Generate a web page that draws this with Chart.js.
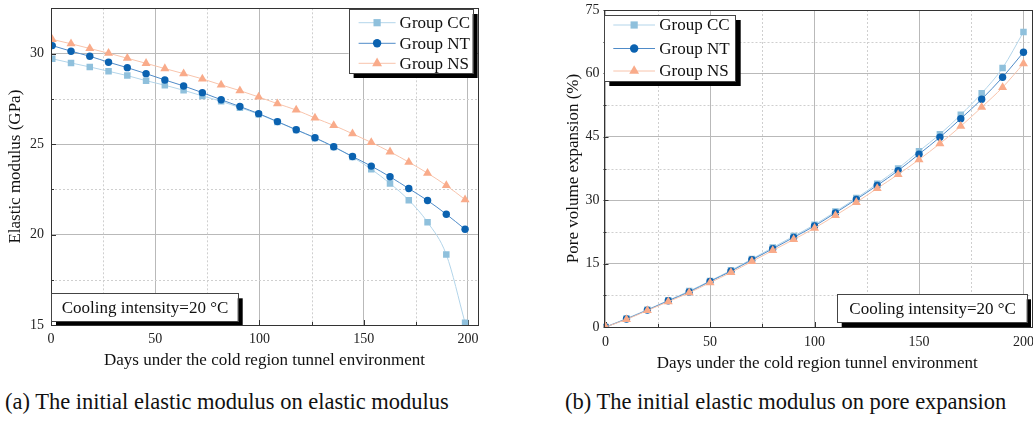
<!DOCTYPE html>
<html lang="en">

<head>
  <meta charset="UTF-8" />
  <title>Elastic modulus and pore expansion</title>
  <script src="https://cdn.jsdelivr.net/npm/chart.js"></script>
  <style>
    body,
    html {
      margin: 0;
      width: 1033px;
      height: 427px;
      background: #fff;
      overflow: hidden;
      font-family: 'Liberation Serif', 'Times New Roman', serif;
    }

    .painel {
      position: absolute;
      top: 0;
    }

    .legenda {
      position: absolute;
      top: 389px;
      font-size: 22.5px;
      color: #111;
      white-space: nowrap;
    }
  </style>
</head>

<body>
  <div class="painel" style="left:0"><canvas id="graficoModulo" width="490" height="375"></canvas></div>
  <div class="painel" style="left:555px"><canvas id="graficoPoros" width="490" height="377"></canvas></div>
  <div class="legenda" style="left:5px">(a) The initial elastic modulus on elastic modulus</div>
  <div class="legenda" style="left:565px">(b) The initial elastic modulus on pore expansion</div>

  <script>
    const groupLabels = ['Group CC', 'Group NT', 'Group NS'];

    // (a) elastic modulus, GPa
    const modulusDays = [0.6, 9.6, 18.6, 27.6, 36.6, 45.6, 54.6, 63.6, 72.6, 81.6, 90.6, 99.6,
      108.6, 117.6, 126.6, 135.6, 144.6, 153.6, 162.6, 171.6, 180.6, 189.6, 198.6];
    const modulusCC = [29.71, 29.48, 29.26, 29.02, 28.78, 28.50, 28.25, 27.97, 27.66, 27.36, 27.01, 26.65,
      26.22, 25.78, 25.33, 24.84, 24.28, 23.61, 22.82, 21.90, 20.68, 18.89, 15.12];
    const modulusNT = [30.44, 30.13, 29.85, 29.52, 29.22, 28.89, 28.54, 28.21, 27.84, 27.45, 27.07, 26.68,
      26.24, 25.79, 25.35, 24.85, 24.31, 23.78, 23.19, 22.54, 21.88, 21.12, 20.29];
    const modulusNS = [30.78, 30.54, 30.28, 30.02, 29.74, 29.46, 29.17, 28.89, 28.60, 28.27, 27.95, 27.60,
      27.23, 26.88, 26.44, 26.03, 25.57, 25.09, 24.57, 24.00, 23.39, 22.71, 21.93];

    // (b) pore volume expansion, %
    const poreDays = [0, 10, 20, 30, 40, 50, 60, 70, 80, 90, 100, 110, 120, 130, 140, 150, 160, 170, 180, 190, 200];
    const poreCC = [0, 2.0, 4.1, 6.3, 8.5, 10.9, 13.4, 16.1, 18.8, 21.5, 24.2, 27.3, 30.5, 33.9, 37.5,
      41.6, 45.6, 50.2, 55.3, 61.3, 69.8];
    const poreNT = [0, 1.9, 4.0, 6.2, 8.3, 10.8, 13.2, 15.9, 18.5, 21.2, 23.9, 27.0, 30.2, 33.5, 37.0,
      40.9, 44.9, 49.3, 53.9, 59.1, 65.0];
    const poreNS = [0, 1.8, 3.9, 6.0, 8.1, 10.5, 12.9, 15.5, 18.1, 20.7, 23.4, 26.4, 29.5, 32.8, 36.1,
      39.6, 43.4, 47.5, 52.0, 56.7, 62.3];

    const modulusTicks = [15, 20, 25, 30];
    const poreTicks = [0, 15, 30, 45, 60, 75];
    const dayTicks = [0, 50, 100, 150, 200];

    const fonte = "'Liberation Serif', 'Times New Roman', serif";
    const estilos = [
      { cor: '#8fc0dc', linha: '#b3d5ea', ponto: 'rect', raio: 4.6, ordem: 2 },
      { cor: '#0b62b0', linha: '#4f8bc8', ponto: 'circle', raio: 3.7, ordem: 1 },
      { cor: '#f9ab8a', linha: '#f8c4ac', ponto: 'triangle', raio: 5.2, ordem: 0 }
    ];

    function montarSeries(dias, series) {
      return series.map((valores, i) => ({
        label: groupLabels[i],
        data: valores.map((v, k) => ({ x: dias[k], y: v })),
        borderColor: estilos[i].linha,
        backgroundColor: estilos[i].cor,
        pointBackgroundColor: estilos[i].cor,
        pointBorderColor: estilos[i].cor,
        pointBorderWidth: 0,
        pointStyle: estilos[i].ponto,
        pointRadius: estilos[i].raio,
        borderWidth: 1,
        cubicInterpolationMode: 'monotone',
        order: estilos[i].ordem
      }));
    }

    // grade menor pontilhada, ticks internos e moldura
    const gradePlugin = {
      id: 'grade',
      beforeDatasetsDraw(chart, args, opts) {
        const { ctx, chartArea: a } = chart;
        const sx = chart.scales.x, sy = chart.scales.y;
        ctx.save();
        ctx.strokeStyle = '#cfcfcf';
        ctx.lineWidth = 1;
        ctx.setLineDash([2, 2]);
        sx.ticks.forEach(t => {
          if (opts.xMajor.includes(t.value)) return;
          const px = Math.round(sx.getPixelForValue(t.value)) + 0.5;
          ctx.beginPath(); ctx.moveTo(px, a.top); ctx.lineTo(px, a.bottom); ctx.stroke();
        });
        sy.ticks.forEach(t => {
          if (opts.yMajor.includes(t.value)) return;
          const py = Math.round(sy.getPixelForValue(t.value)) + 0.5;
          ctx.beginPath(); ctx.moveTo(a.left, py); ctx.lineTo(a.right, py); ctx.stroke();
        });
        ctx.setLineDash([]);
        ctx.strokeStyle = '#333';
        sx.ticks.forEach(t => {
          const px = Math.round(sx.getPixelForValue(t.value)) + 0.5;
          const len = opts.xMajor.includes(t.value) ? 5 : 3;
          ctx.beginPath(); ctx.moveTo(px, a.bottom); ctx.lineTo(px, a.bottom - len); ctx.stroke();
        });
        sy.ticks.forEach(t => {
          const py = Math.round(sy.getPixelForValue(t.value)) + 0.5;
          const len = opts.yMajor.includes(t.value) ? 5 : 3;
          ctx.beginPath(); ctx.moveTo(a.left, py); ctx.lineTo(a.left + len, py); ctx.stroke();
        });
        ctx.restore();
      },
      afterDraw(chart) {
        const { ctx, chartArea: a } = chart;
        ctx.save();
        ctx.strokeStyle = '#333';
        ctx.lineWidth = 1;
        ctx.strokeRect(Math.round(a.left) + 0.5, Math.round(a.top) + 0.5,
          Math.round(a.right - a.left), Math.round(a.bottom - a.top));
        ctx.restore();
      }
    };

    function caixaComSombra(ctx, a, x, y, w, h) {
      ctx.save();
      ctx.beginPath();
      ctx.rect(a.left, a.top, a.right - a.left, a.bottom - a.top);
      ctx.clip();
      ctx.fillStyle = '#000';
      ctx.fillRect(x + 5, y + 5, w, h);
      ctx.restore();
      ctx.fillStyle = '#fff';
      ctx.fillRect(x, y, w, h);
      ctx.strokeStyle = '#444';
      ctx.lineWidth = 1;
      ctx.strokeRect(Math.round(x) + 0.5, Math.round(y) + 0.5, Math.round(w), Math.round(h));
    }

    // legenda com sombra + caixa de anotação
    const caixasPlugin = {
      id: 'caixas',
      afterDraw(chart, args, opts) {
        const { ctx, chartArea: a } = chart;
        ctx.save();
        const L = opts.legenda;
        const lx = L.lado === 'right' ? a.right - L.margem - L.w : a.left + L.margem;
        const ly = a.top + L.topo;
        caixaComSombra(ctx, a, lx, ly, L.w, L.h);
        ctx.font = '17px ' + fonte;
        ctx.textBaseline = 'middle';
        chart.data.datasets.forEach((ds, i) => {
          const yy = ly + L.linhas[i];
          ctx.strokeStyle = ds.borderColor;
          ctx.lineWidth = 1;
          ctx.beginPath(); ctx.moveTo(lx + L.amostra[0], yy); ctx.lineTo(lx + L.amostra[1], yy); ctx.stroke();
          ctx.fillStyle = ds.pointBackgroundColor;
          ctx.strokeStyle = ds.pointBorderColor;
          Chart.helpers.drawPoint(ctx, { pointStyle: ds.pointStyle, radius: ds.pointRadius + 0.5, rotation: 0, borderWidth: 0 },
            lx + (L.amostra[0] + L.amostra[1]) / 2, yy);
          ctx.fillStyle = '#111';
          ctx.fillText(ds.label, lx + L.texto, yy + 1);
        });
        const N = opts.nota;
        const nx = N.lado === 'right' ? a.right - N.margem - N.w : a.left + N.margem;
        const ny = a.bottom - N.base - N.h;
        caixaComSombra(ctx, a, nx, ny, N.w, N.h);
        ctx.font = '17px ' + fonte;
        ctx.fillStyle = '#111';
        ctx.textBaseline = 'middle';
        ctx.fillText(N.texto, nx + N.recuo, ny + N.h / 2 + 1);
        ctx.restore();
      }
    };

    function opcoesEixos(cfg) {
      const corGrade = (lista) => (c) => (c.tick && lista.includes(c.tick.value)) ? '#b9b9b9' : 'rgba(0,0,0,0)';
      return {
        x: {
          type: 'linear',
          min: cfg.xMin,
          max: cfg.xMax,
          afterFit: (s) => { s.height = cfg.alturaX; },
          border: { display: false },
          grid: { color: corGrade(dayTicks), drawTicks: false },
          ticks: {
            stepSize: 25,
            includeBounds: false,
            maxRotation: 0,
            autoSkip: false,
            padding: cfg.padX,
            color: '#222',
            font: { family: fonte, size: 14 },
            callback: (v) => dayTicks.includes(v) ? v : ''
          },
          title: {
            display: true,
            text: 'Days under the cold region tunnel environment',
            color: '#111',
            font: { family: fonte, size: 17 },
            padding: { top: 0, bottom: cfg.tituloX }
          }
        },
        y: {
          type: 'linear',
          min: cfg.yMin,
          max: cfg.yMax,
          afterFit: (s) => { s.width = cfg.larguraY; },
          border: { display: false },
          grid: { color: corGrade(cfg.yTicks), drawTicks: false },
          ticks: {
            stepSize: cfg.yStep,
            includeBounds: false,
            autoSkip: false,
            padding: cfg.padY,
            color: '#222',
            // lineHeight pequeno: rótulo de uma linha fica no mesmo lugar, mas não empurra a área do gráfico
            font: { family: fonte, size: 14, lineHeight: 0.1 },
            callback: (v) => cfg.yTicks.includes(v) ? v : ''
          },
          title: {
            display: true,
            text: cfg.tituloY,
            color: '#111',
            font: { family: fonte, size: 17 },
            padding: { top: cfg.tituloYpad, bottom: 0 }
          }
        }
      };
    }

    new Chart(document.getElementById('graficoModulo'), {
      type: 'line',
      data: { datasets: montarSeries(modulusDays, [modulusCC, modulusNT, modulusNS]) },
      options: {
        responsive: false,
        animation: false,
        layout: { padding: { top: 8.3, right: 12, left: 0, bottom: 0 } },
        scales: opcoesEixos({
          xMin: 0, xMax: 204.8, yMin: 15, yMax: 32.5, yStep: 2.5, yTicks: modulusTicks,
          alturaX: 50, larguraY: 51, padX: 6, padY: 7, tituloX: 4, tituloYpad: 5,
          tituloY: 'Elastic modulus (GPa)'
        }),
        plugins: {
          legend: { display: false },
          tooltip: { enabled: false },
          grade: { xMajor: dayTicks, yMajor: modulusTicks },
          caixas: {
            legenda: { lado: 'right', margem: 5.4, topo: 0.7, w: 124, h: 64, linhas: [13.7, 34.3, 54.3], amostra: [10, 47], texto: 51 },
            nota: { lado: 'left', margem: 0, base: 3.3, w: 186.7, h: 28.4, recuo: 10.7, texto: 'Cooling intensity=20 °C' }
          }
        }
      },
      plugins: [gradePlugin, caixasPlugin]
    });

    new Chart(document.getElementById('graficoPoros'), {
      type: 'line',
      data: { datasets: montarSeries(poreDays, [poreCC, poreNT, poreNS]) },
      options: {
        responsive: false,
        animation: false,
        layout: { padding: { top: 10, right: 14, left: 0, bottom: 0 } },
        scales: opcoesEixos({
          xMin: -1, xMax: 203.6, yMin: 0, yMax: 75, yStep: 7.5, yTicks: poreTicks,
          alturaX: 50, larguraY: 48.5, padX: 7, padY: 4, tituloX: 3, tituloYpad: 8,
          tituloY: 'Pore volume expansion (%)'
        }),
        plugins: {
          legend: { display: false },
          tooltip: { enabled: false },
          grade: { xMajor: dayTicks, yMajor: poreTicks },
          caixas: {
            legenda: { lado: 'left', margem: 0.8, topo: 5, w: 131.4, h: 66, linhas: [10, 33.5, 56], amostra: [9, 50.7], texto: 55 },
            nota: { lado: 'right', margem: 4.3, base: 5, w: 190, h: 27.7, recuo: 12.6, texto: 'Cooling intensity=20 °C' }
          }
        }
      },
      plugins: [gradePlugin, caixasPlugin]
    });
  </script>
</body>

</html>
